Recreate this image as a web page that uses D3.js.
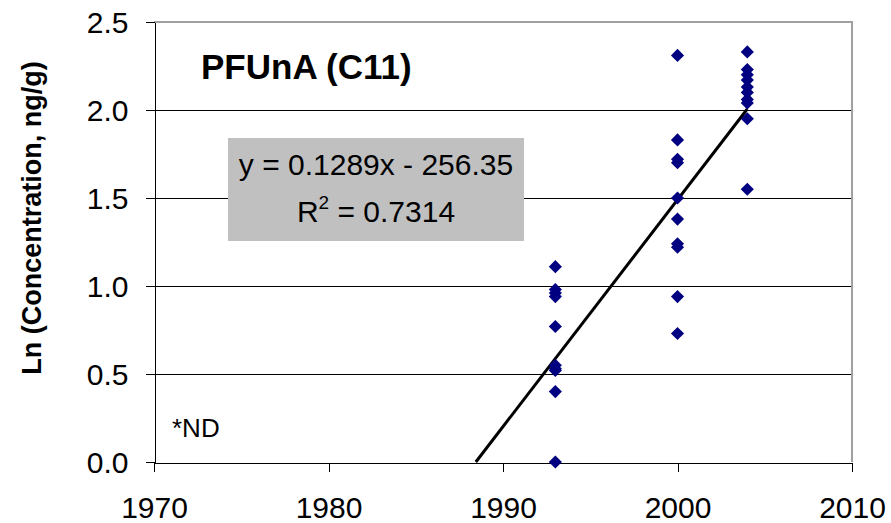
<!DOCTYPE html>
<html>
<head>
<meta charset="utf-8">
<script src="https://cdn.jsdelivr.net/npm/d3@7"></script>
<style>
  html, body { margin: 0; padding: 0; background: #fff; }
  svg { display: block; font-family: "Liberation Sans", Arial, sans-serif; }
</style>
</head>
<body>
<svg id="chart" width="891" height="523"></svg>
<script>
// Sampling years and ln-transformed concentrations (ng/g) for PFUnA (C11)
const sampleYears = [1993, 2000, 2004];
const lnConc1993 = [1.11, 0.98, 0.96, 0.94, 0.77, 0.55, 0.53, 0.52, 0.40, 0.00];
const lnConc2000 = [2.31, 1.83, 1.72, 1.70, 1.50, 1.38, 1.24, 1.22, 0.94, 0.73];
const lnConc2004 = [2.33, 2.23, 2.20, 2.17, 2.13, 2.10, 2.06, 2.04, 1.95, 1.55];

// Linear trend (unrounded slope; shown as y = 0.1289x - 256.35), R² = 0.7314
const trendSlope = 0.12892;
const trendIntercept = -256.35;
const trendR2 = "0.7314";
const trendEnd = 2004;

const xTicks = [1970, 1980, 1990, 2000, 2010];
const yTicks = [0, 0.5, 1.0, 1.5, 2.0, 2.5];

const chartTitle = "PFUnA (C11)";
const yTitle = "Ln (Concentration, ng/g)";
const noteText = "*ND";

const svg = d3.select("#chart");
const plot = { left: 154, right: 852, top: 22, bottom: 462 };

const x = d3.scaleLinear().domain([1970, 2010]).range([plot.left, plot.right]);
const y = d3.scaleLinear().domain([0, 2.5]).range([plot.bottom, plot.top]);

// Horizontal gridlines
svg.append("g")
  .attr("shape-rendering", "crispEdges")
  .selectAll("line")
  .data(yTicks.filter(v => v > 0 && v < 2.5))
  .join("line")
  .attr("x1", plot.left).attr("x2", plot.right)
  .attr("y1", d => Math.round(y(d)) + 0.5).attr("y2", d => Math.round(y(d)) + 0.5)
  .attr("stroke", "#000").attr("stroke-width", 1);

// Plot frame (top and right edges in grey)
svg.append("path")
  .attr("d", `M${plot.left},${plot.top}H${plot.right}V${plot.bottom}`)
  .attr("fill", "none").attr("stroke", "#a0a0a0").attr("stroke-width", 2);

// Axes
const xAxis = svg.append("g")
  .attr("transform", `translate(0,${plot.bottom + 0.5})`)
  .call(d3.axisBottom(x).tickValues(xTicks).tickFormat(d3.format("d"))
    .tickSizeOuter(0).tickSizeInner(9).tickPadding(25));
const yAxis = svg.append("g")
  .attr("transform", `translate(${plot.left + 0.5},0)`)
  .call(d3.axisLeft(y).tickValues(yTicks).tickFormat(d3.format(".1f"))
    .tickSizeOuter(0).tickSizeInner(9).tickPadding(17));

[xAxis, yAxis].forEach(g => {
  g.attr("shape-rendering", "crispEdges");
  g.select(".domain").attr("stroke", "#000").attr("stroke-width", 1);
  g.selectAll(".tick line").attr("stroke", "#000").attr("stroke-width", 1);
  g.selectAll(".tick text")
    .attr("fill", "#000")
    .style("font-family", "'Liberation Sans', Arial, sans-serif")
    .style("font-size", "30px");
});
xAxis.selectAll(".tick text").attr("dy", "0.71em");
yAxis.selectAll(".tick text").attr("dy", "0.36em");

// Trend line, clipped at y = 0
const trendStart = -trendIntercept / trendSlope;
const trend = [trendStart, trendEnd].map(t => [t, trendSlope * t + trendIntercept]);
svg.append("path")
  .datum(trend)
  .attr("d", d3.line().x(d => x(d[0])).y(d => y(d[1])))
  .attr("stroke", "#000").attr("stroke-width", 3).attr("fill", "none");

// Data points (diamonds)
const points = [
  ...lnConc1993.map(v => ({ year: sampleYears[0], value: v })),
  ...lnConc2000.map(v => ({ year: sampleYears[1], value: v })),
  ...lnConc2004.map(v => ({ year: sampleYears[2], value: v }))
];
const diamond = d3.symbol().type(d3.symbolDiamond2).size(110);
svg.append("g")
  .selectAll("path")
  .data(points)
  .join("path")
  .attr("transform", d => `translate(${x(d.year)},${y(d.value)})`)
  .attr("d", diamond)
  .attr("fill", "#000080");

// Chart title
svg.append("text")
  .attr("x", 201).attr("y", 79)
  .attr("font-size", 35).attr("font-weight", "bold")
  .attr("fill", "#000")
  .text(chartTitle);

// Regression equation box
svg.append("rect")
  .attr("x", 228).attr("y", 138).attr("width", 296).attr("height", 103)
  .attr("fill", "#c0c0c0");
svg.append("text")
  .attr("x", 376).attr("y", 175)
  .attr("text-anchor", "middle").attr("font-size", 30).attr("fill", "#000")
  .text(`y = ${d3.format(".4f")(trendSlope)}x - ${d3.format(".2f")(Math.abs(trendIntercept))}`);
const r2 = svg.append("text")
  .attr("x", 376).attr("y", 222)
  .attr("text-anchor", "middle").attr("font-size", 30).attr("fill", "#000");
r2.append("tspan").text("R");
r2.append("tspan").attr("font-size", 19).attr("dy", -13).text("2");
r2.append("tspan").attr("dy", 13).text(` = ${trendR2}`);

// Footnote
svg.append("text")
  .attr("x", 172).attr("y", 437)
  .attr("font-size", 26).attr("fill", "#000")
  .text(noteText);

// Y axis title
svg.append("text")
  .attr("transform", "translate(41,218) rotate(-90)")
  .attr("text-anchor", "middle")
  .attr("font-size", 27).attr("font-weight", "bold").attr("fill", "#000")
  .text(yTitle);
</script>
</body>
</html>
